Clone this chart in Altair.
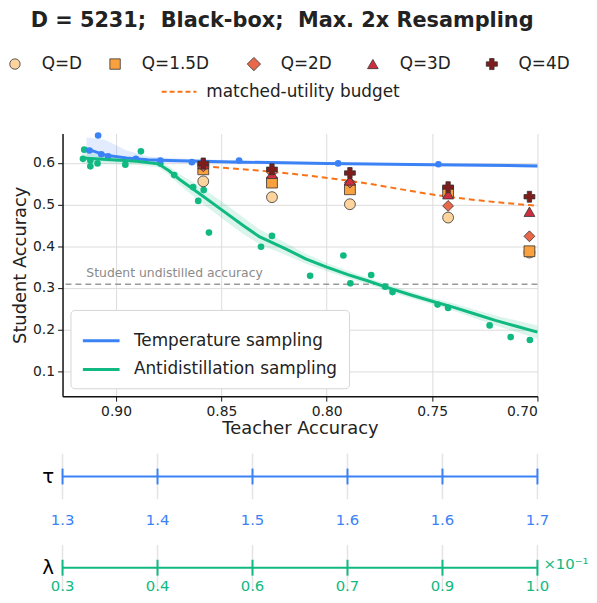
import altair as alt
import pandas as pd

BLUE = "#3b82f6"
GREEN = "#10b981"
ORANGE = "#f97316"
FONT = "DejaVu Sans"

# ---------------- data ----------------
temp_x = [0.9126, 0.9085, 0.9070, 0.9038, 0.8906, 0.8790, 0.8640, 0.8416, 0.7946, 0.7470]
temp_y = [0.630, 0.666, 0.621, 0.616, 0.610, 0.606, 0.602, 0.606, 0.599, 0.597]

anti_x = [0.9151, 0.9157, 0.9122, 0.9122, 0.9088, 0.8956, 0.8882, 0.8790, 0.8724, 0.8634,
          0.8584, 0.8610, 0.8559, 0.8312, 0.8260, 0.8079, 0.7921, 0.7888, 0.7789, 0.7723,
          0.7688, 0.7474, 0.7424, 0.7227, 0.7127, 0.7036]
anti_y = [0.632, 0.610, 0.592, 0.606, 0.599, 0.596, 0.628, 0.599, 0.571, 0.542,
          0.535, 0.509, 0.433, 0.399, 0.425, 0.329, 0.378, 0.311, 0.331, 0.303,
          0.290, 0.260, 0.252, 0.210, 0.182, 0.175]

temp_fit_x = [0.914, 0.905, 0.895, 0.885, 0.875, 0.860, 0.840, 0.800, 0.750, 0.700]
temp_fit_y = [0.634, 0.619, 0.612, 0.608, 0.606, 0.604, 0.602, 0.599, 0.596, 0.593]
temp_fit_lo = [0.610, 0.603, 0.602, 0.601, 0.600, 0.600, 0.599, 0.597, 0.594, 0.589]
temp_fit_hi = [0.662, 0.655, 0.630, 0.616, 0.612, 0.609, 0.606, 0.602, 0.599, 0.597]

anti_fit_x = [0.916, 0.900, 0.890, 0.880, 0.875, 0.870, 0.860, 0.850, 0.840, 0.832, 0.820, 0.810,
              0.800, 0.790, 0.780, 0.770, 0.760, 0.750, 0.740, 0.730, 0.720, 0.710, 0.700]
anti_fit_y = [0.612, 0.607, 0.604, 0.598, 0.582, 0.561, 0.525, 0.488, 0.451, 0.423, 0.395, 0.370,
              0.350, 0.332, 0.316, 0.299, 0.283, 0.268, 0.254, 0.238, 0.222, 0.208, 0.194]
anti_fit_lo = [0.598, 0.597, 0.596, 0.590, 0.572, 0.548, 0.507, 0.468, 0.431, 0.405, 0.380, 0.358,
               0.340, 0.323, 0.308, 0.291, 0.275, 0.260, 0.245, 0.228, 0.210, 0.194, 0.178]
anti_fit_hi = [0.626, 0.617, 0.612, 0.606, 0.592, 0.574, 0.543, 0.508, 0.471, 0.441, 0.410, 0.382,
               0.360, 0.341, 0.324, 0.307, 0.291, 0.276, 0.263, 0.248, 0.234, 0.222, 0.210]

budget_x = [0.8586, 0.8260, 0.7890, 0.7424, 0.7000]
budget_y = [0.592, 0.579, 0.557, 0.519, 0.497]

q_labels = ["Q=D", "Q=1.5D", "Q=2D", "Q=3D", "Q=4D"]
q_shapes = ["circle", "square", "diamond", "triangle-up", "cross"]
q_colors = ["#fdd49e", "#f9a03f", "#e8684a", "#cf2e3f", "#7f1d1d"]
q_sizes = [120, 120, 190, 125, 135]
q_x = [0.8586, 0.8260, 0.7890, 0.7424, 0.7038]
q_y = {
    "Q=D":    [0.556, 0.518, 0.501, 0.469, 0.385],
    "Q=1.5D": [0.585, 0.553, 0.537, 0.531, 0.388],
    "Q=2D":   [0.592, 0.578, 0.553, 0.497, 0.424],
    "Q=3D":   [0.597, 0.574, 0.558, 0.525, 0.483],
    "Q=4D":   [0.599, 0.585, 0.576, 0.542, 0.519],
}
undistilled = 0.309

x_ticks = [0.90, 0.85, 0.80, 0.75, 0.70]
y_ticks = [0.1, 0.2, 0.3, 0.4, 0.5, 0.6]

tau_labels = ["1.3", "1.4", "1.5", "1.6", "1.6", "1.7"]
lam_labels = ["0.3", "0.4", "0.6", "0.7", "0.9", "1.0"]

methods = ["Temperature sampling", "Antidistillation sampling"]

# ---------------- frames ----------------
temp_pts = pd.DataFrame({"x": temp_x, "y": temp_y})
anti_pts = pd.DataFrame({"x": anti_x, "y": anti_y})
temp_band = pd.DataFrame({"x": temp_fit_x, "lo": temp_fit_lo, "hi": temp_fit_hi})
anti_band = pd.DataFrame({"x": anti_fit_x, "lo": anti_fit_lo, "hi": anti_fit_hi})
fits = pd.concat([
    pd.DataFrame({"x": temp_fit_x, "y": temp_fit_y, "method": methods[0]}),
    pd.DataFrame({"x": anti_fit_x, "y": anti_fit_y, "method": methods[1]}),
])
budget = pd.DataFrame({"x": budget_x, "y": budget_y})
qrows = []
for lab in q_labels:
    for xv, yv in zip(q_x, q_y[lab]):
        qrows.append({"x": xv, "y": yv, "q": lab})
qdf = pd.DataFrame(qrows)

W, H = 479, 265
xscale = alt.Scale(domain=[0.70, 0.9254], reverse=True, nice=False, zero=False)
yscale = alt.Scale(domain=[0.04, 0.671], nice=False, zero=False)
xaxis = alt.Axis(title="Teacher Accuracy", values=x_ticks, format=".2f", grid=True,
                 gridColor="#dcdcdc", domainColor="#111", domainWidth=1.5, tickColor="#111",
                 tickSize=5, labelFontSize=14, titleFontSize=18, labelColor="#222",
                 titleColor="#222", titleFontWeight="normal", labelPadding=3, titlePadding=2)
yaxis = alt.Axis(title="Student Accuracy", values=y_ticks, format=".1f", grid=True,
                 gridColor="#dcdcdc", domainColor="#111", domainWidth=1.5, tickColor="#111",
                 tickSize=5, labelFontSize=14, titleFontSize=18, labelColor="#222",
                 titleColor="#222", titleFontWeight="normal", labelPadding=3, titlePadding=3)


def X():
    return alt.X("x:Q", scale=xscale, axis=xaxis)


def Y(field="y"):
    return alt.Y(f"{field}:Q", scale=yscale, axis=yaxis)


band_t = alt.Chart(temp_band).mark_area(color=BLUE, opacity=0.15).encode(x=X(), y=Y("lo"), y2="hi:Q")
band_a = alt.Chart(anti_band).mark_area(color=GREEN, opacity=0.15).encode(x=X(), y=Y("lo"), y2="hi:Q")

und_df = pd.DataFrame({"y": [undistilled], "x": [0.9141], "t": ["Student undistilled accuracy"]})
und_rule = alt.Chart(und_df).mark_rule(color="#9a9a9a", strokeDash=[6, 4], strokeWidth=1.5).encode(y=Y())
und_text = alt.Chart(und_df).mark_text(align="left", baseline="alphabetic", dy=-7, fontSize=12.5,
                                       color="#8a8a8a").encode(x=X(), y=Y(), text="t:N")

pts_a = alt.Chart(anti_pts).mark_circle(size=45, color=GREEN, opacity=1).encode(x=X(), y=Y())
pts_t = alt.Chart(temp_pts).mark_circle(size=45, color=BLUE, opacity=1).encode(x=X(), y=Y())

lines = alt.Chart(fits).mark_line(strokeWidth=3).encode(
    x=X(), y=Y(),
    color=alt.Color("method:N", scale=alt.Scale(domain=methods, range=[BLUE, GREEN]),
                    legend=alt.Legend(title=None, orient="bottom-left", offset=8,
                                      symbolType="stroke", symbolStrokeWidth=3, symbolSize=1369,
                                      labelFontSize=17, labelColor="#222", labelOffset=13,
                                      fillColor="white", strokeColor="#d4d4d4", padding=11,
                                      cornerRadius=4, rowPadding=1, labelLimit=400)),
    detail="method:N",
)

budget_line = alt.Chart(budget).mark_line(color=ORANGE, strokeDash=[6, 4], strokeWidth=2,
                                          interpolate="monotone").encode(x=X(), y=Y())

qpts = alt.Chart(qdf).mark_point(filled=True, opacity=1, stroke="#333", strokeWidth=0.8).encode(
    x=X(), y=Y(),
    shape=alt.Shape("q:N", scale=alt.Scale(domain=q_labels, range=q_shapes), legend=None),
    fill=alt.Fill("q:N", scale=alt.Scale(domain=q_labels, range=q_colors), legend=None),
    size=alt.Size("q:N", scale=alt.Scale(domain=q_labels, range=q_sizes), legend=None),
)

main = alt.layer(band_t, band_a, und_rule, und_text, pts_a, pts_t, lines, budget_line, qpts).properties(
    width=W, height=H)

# ---------------- top legend ----------------
LEG_X = [-48, 53, 193, 313, 433]
leg_layers = []
for i, (lab, shp, col, sz) in enumerate(zip(q_labels, q_shapes, q_colors, q_sizes)):
    d = pd.DataFrame({"q": [lab]})
    leg_layers.append(alt.Chart(d).mark_point(shape=shp, filled=True, fill=col, stroke="#333",
                                              strokeWidth=0.8, size=sz - 10, opacity=1).encode(
        x=alt.value(LEG_X[i]), y=alt.value(12)))
    leg_layers.append(alt.Chart(d).mark_text(align="left", baseline="middle", fontSize=17,
                                             color="#222").encode(
        x=alt.value(LEG_X[i] + 27), y=alt.value(12), text="q:N"))
bd = pd.DataFrame({"t": ["matched-utility budget"]})
leg_layers.append(alt.Chart(bd).mark_rule(color=ORANGE, strokeDash=[5, 3], strokeWidth=2).encode(
    x=alt.value(100), x2=alt.value(135), y=alt.value(40)))
leg_layers.append(alt.Chart(bd).mark_text(align="left", baseline="middle", fontSize=17,
                                          color="#222").encode(
    x=alt.value(145), y=alt.value(40), text="t:N"))
legend_chart = alt.layer(*leg_layers).properties(width=W, height=62)

# ---------------- parameter strips ----------------
strip_df = pd.DataFrame({
    "idx": list(range(len(tau_labels))) + list(range(len(lam_labels))),
    "row": ["τ"] * len(tau_labels) + ["λ"] * len(lam_labels),
    "lab": tau_labels + lam_labels,
})
sx = alt.X("idx:Q", scale=alt.Scale(domain=[0, len(tau_labels) - 1], nice=False, zero=False), axis=None)
sy = alt.Y("row:N", scale=alt.Scale(type="point", domain=["τ", "λ"], range=[61, 153], padding=0),
           axis=alt.Axis(title=None, domain=False, ticks=False, grid=False, labelFontSize=20,
                         labelColor="black", labelPadding=9))
scol = alt.Color("row:N", scale=alt.Scale(domain=["τ", "λ"], range=[BLUE, GREEN]), legend=None)

s_base = alt.Chart(strip_df)
s_grid = s_base.mark_tick(color="#d8d8d8", size=46, thickness=1.5).encode(x=sx, y=sy)
s_line = s_base.mark_line(strokeWidth=2).encode(x=sx, y=sy, color=scol, detail="row:N")
s_ticks = s_base.mark_tick(size=16, thickness=2, opacity=1).encode(x=sx, y=sy, color=scol)
s_tau = s_base.transform_filter(alt.datum.row == "τ").mark_text(dy=44, fontSize=15, color=BLUE).encode(
    x=sx, y=sy, text="lab:N")
s_lam = s_base.transform_filter(alt.datum.row == "λ").mark_text(dy=18, fontSize=15, color=GREEN).encode(
    x=sx, y=sy, text="lab:N")
exp_df = pd.DataFrame({"idx": [len(lam_labels) - 1], "row": ["λ"], "t": ["×10⁻¹"]})
s_exp = alt.Chart(exp_df).mark_text(align="left", dx=6, dy=-4, fontSize=15, color=GREEN).encode(
    x=sx, y=sy, text="t:N")
strips = alt.layer(s_grid, s_line, s_ticks, s_tau, s_lam, s_exp).properties(width=W, height=170)

chart = alt.vconcat(legend_chart, main, strips, spacing=20, bounds="flush").resolve_scale(
    color="independent", x="independent", y="independent", shape="independent", fill="independent",
    size="independent"
).resolve_legend(color="independent").properties(
    title=alt.Title("D = 5231;\u00a0 Black-box;\u00a0 Max. 2x Resampling", fontSize=21, fontWeight="bold",
                    color="#222", anchor="middle", frame="group", dx=-18, offset=21),
    padding={"left": 0, "top": 0, "right": 0, "bottom": 0},
).configure(font=FONT).configure_view(stroke=None)

chart.save("out.html", embed_options={"renderer": "svg", "actions": False})
